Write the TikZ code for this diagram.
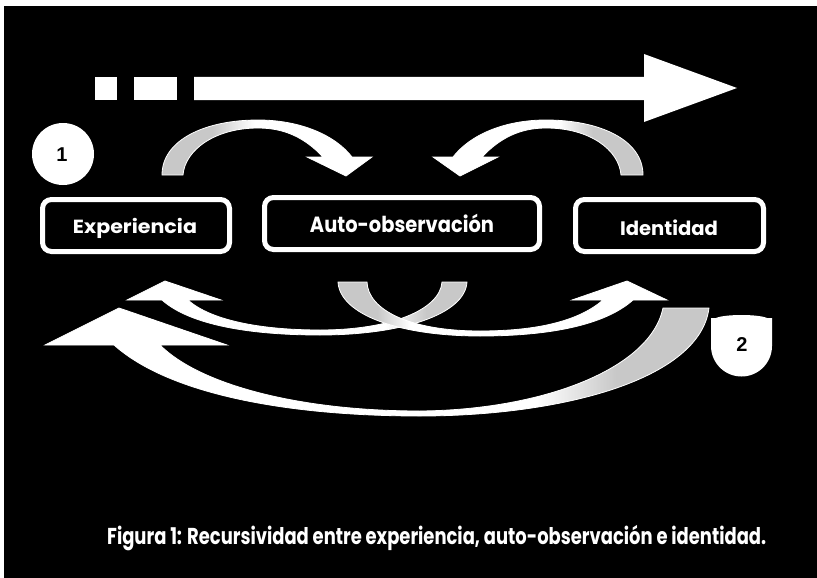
\documentclass[tikz,border=0pt]{standalone}
\usepackage{fontspec}
\newfontfamily\pop{Poppins}
\newfontfamily\lib{Liberation Sans}
\definecolor{tailgray}{RGB}{200,200,200}
\pgfdeclarehorizontalshading{shTopL}{100bp}{color(0bp)=(tailgray); color(37bp)=(tailgray); color(47bp)=(white); color(100bp)=(white)}
\pgfdeclarehorizontalshading{shTopR}{100bp}{color(0bp)=(white); color(55bp)=(white); color(63bp)=(tailgray); color(100bp)=(tailgray)}
\pgfdeclarehorizontalshading{shBig}{100bp}{color(0bp)=(white); color(62bp)=(white); color(68bp)=(tailgray); color(100bp)=(tailgray)}
\pgfdeclarehorizontalshading{shSmallL}{100bp}{color(0bp)=(white); color(63bp)=(white); color(69bp)=(tailgray); color(100bp)=(tailgray)}
\pgfdeclarehorizontalshading{shSmallR}{100bp}{color(0bp)=(tailgray); color(31bp)=(tailgray); color(36bp)=(white); color(100bp)=(white)}
\tikzset{
  band/.style={draw=white, line width=0.8pt, line join=miter},
  boxst/.style={draw=white, fill=black, line width=5pt, rounded corners=9pt, inner sep=0pt, minimum height=52pt},
  lbl/.style={text=white, inner sep=0pt, anchor=base},
  numst/.style={text=black, inner sep=0pt, anchor=base, font=\lib\bfseries\fontsize{20}{22}\selectfont},
}
\begin{document}
\begin{tikzpicture}[x=1pt,y=-1pt]
\useasboundingbox (0,0) rectangle (817,578);
\fill[white] (0,0) rectangle (817,578);
\fill[black] (4,6) rectangle (817,578);

% top straight arrow
\fill[white] (95,77) rectangle (117,100);
\fill[white] (134,77) rectangle (177,100);
\fill[white] (194,77) -- (644,77) -- (644,54) -- (737,88) -- (644,122) -- (644,100) -- (194,100) -- cycle;

% number 1
\fill[white] (63,154) circle[radius=31];
\node[numst] (n1) at (62,161) {1};

% boxes
\node[boxst, minimum width=187pt] (exp) at (136,225.5) {};
\node[boxst, minimum width=275pt] (auto) at (402,223.5) {};
\node[boxst, minimum width=188pt] (iden) at (669.5,225.5) {};
\node[lbl, font=\pop\bfseries\fontsize{19}{22}\selectfont] (texp) at (135,233.5) {\resizebox{124pt}{\height}{Experiencia}};
\node[lbl, font=\pop\bfseries\fontsize{22}{26}\selectfont] (tauto) at (402,232.5) {\resizebox{184pt}{\height}{Auto-observación}};
\node[lbl, font=\pop\bfseries\fontsize{19.5}{22}\selectfont] (tiden) at (669,235) {\resizebox{98pt}{\height}{Identidad}};

% top curved arrows
\path[band, shading=shTopL]
  (162,175) .. controls (162,140) and (205,120) .. (258,120)
  .. controls (300,120) and (335,135) .. (352,157)
  -- (372,157) -- (346,176) -- (307,157) -- (323,157)
  .. controls (305,138) and (285,128) .. (258,128)
  .. controls (215,128) and (185,150) .. (183,175) -- cycle;
\path[band, shading=shTopR]
  (643,175) .. controls (643,140) and (600,120) .. (546,120)
  .. controls (504,120) and (470,135) .. (453,157)
  -- (433,157) -- (460,176) -- (498,157) -- (482,157)
  .. controls (500,138) and (520,128) .. (546,128)
  .. controls (590,128) and (619,150) .. (621,175) -- cycle;

% bottom big arrow (Identidad -> Experiencia)
\path[band, shading=shBig]
  (709,308) .. controls (700,380) and (560,416) .. (420,416)
  .. controls (290,416) and (170,395) .. (114,345)
  -- (45,345) -- (119,308) -- (227,345) -- (160,345)
  .. controls (200,385) and (300,411) .. (420,411)
  .. controls (540,410) and (650,370) .. (663,308) -- cycle;

% bottom small arrows
\path[band, shading=shSmallL]
  (467,282) .. controls (465,315) and (400,335) .. (320,335)
  .. controls (250,335) and (190,325) .. (162,300)
  -- (127,300) -- (165,281) -- (221,300) -- (188,300)
  .. controls (210,320) and (260,330) .. (320,330)
  .. controls (390,330) and (440,310) .. (442,282) -- cycle;
\path[band, shading=shSmallR]
  (338,282) .. controls (340,315) and (400,336) .. (480,336)
  .. controls (550,336) and (605,325) .. (633,300)
  -- (667,300) -- (627,281) -- (572,300) -- (603,300)
  .. controls (580,320) and (540,331) .. (480,331)
  .. controls (410,331) and (368,310) .. (367,282) -- cycle;

% number 2
\fill[white] (741.5,346) circle[radius=30.5];
\fill[white] (711,346) -- (711,318) -- (716,318) .. controls (725,314) and (758,314) .. (767,318) -- (772,318) -- (772,346) -- cycle;
\node[numst] (n2) at (742,351) {2};

% caption
\node[lbl, anchor=base west, font=\pop\bfseries\fontsize{23}{26}\selectfont] (cap) at (107,544) {\resizebox{659pt}{\height}{Figura 1: Recursividad entre experiencia, auto-observación e identidad.}};
\end{tikzpicture}
\end{document}
